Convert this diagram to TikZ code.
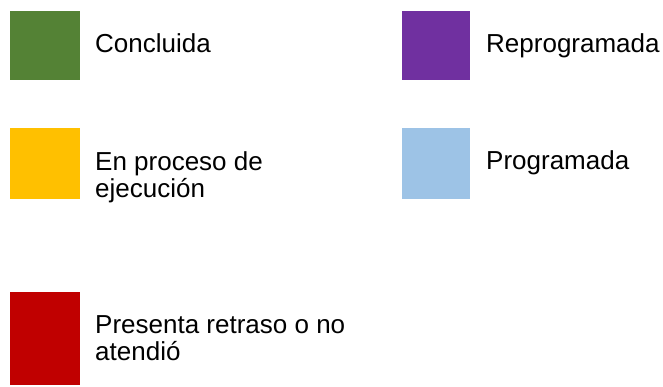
\documentclass[tikz,border=0pt]{standalone}
\usepackage{fontspec}
\setmainfont{Liberation Sans}
\usepackage{tikz}
\usetikzlibrary{positioning}

\definecolor{verde}{HTML}{548235}
\definecolor{morado}{HTML}{7030A0}
\definecolor{amarillo}{HTML}{FFC000}
\definecolor{celeste}{HTML}{9DC3E6}
\definecolor{rojo}{HTML}{C00000}

\begin{document}
\begin{tikzpicture}[x=1pt,y=-1pt,
	swatch/.style={inner sep=0pt,outer sep=0pt,anchor=north west,minimum width=70pt},
	etiqueta/.style={inner sep=0pt,anchor=base west,align=left,font=\fontsize{26}{27}\selectfont}]
			\useasboundingbox (0,0) rectangle (663,386);

			% columna izquierda
			\node[swatch,fill=verde,minimum height=69pt] (sqverde) at (10,11) {};
			\node[swatch,fill=amarillo,minimum height=71pt] (sqamarillo) at (10,128) {};
			\node[swatch,fill=rojo,minimum height=93pt] (sqrojo) at (10,292) {};

			% columna derecha
			\node[swatch,fill=morado,minimum width=68pt,minimum height=69pt] (sqmorado) at (402,11) {};
			\node[swatch,fill=celeste,minimum width=68pt,minimum height=71pt] (sqceleste) at (402,128) {};

			% textos (base de la ultima linea)
			\node[etiqueta] (concluida) at (95,52) {Concluida};
			\node[etiqueta] (proceso) at (95,197) {En proceso de\\ejecución};
			\node[etiqueta] (retraso) at (95,360) {Presenta retraso o no\\atendió};
			\node[etiqueta] (reprogramada) at (486,52) {Reprogramada};
			\node[etiqueta] (programada) at (486,169) {Programada};

		    \end{tikzpicture}
\end{document}
